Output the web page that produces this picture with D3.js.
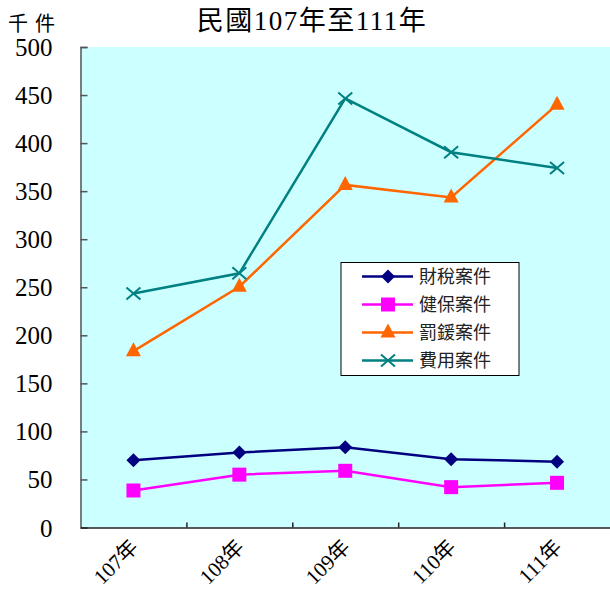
<!DOCTYPE html>
<html>
<head>
<meta charset="utf-8">
<script src="https://cdn.jsdelivr.net/npm/d3@7"></script>
<style>
    body { margin: 0; background: #fff; }
    svg text { font-family: 'Liberation Serif', 'Times New Roman', Times, 'Noto Sans CJK TC', serif; }
</style>
</head>
<body>
<div id="chart"></div>
<script>
var years = ['107年', '108年', '109年', '110年', '111年'];
var seriesNames = ['財稅案件', '健保案件', '罰鍰案件', '費用案件'];
var taxCases = [70, 78, 83.5, 71, 68.5];
var healthCases = [38.5, 55, 59, 42, 46.5];
var fineCases = [183.5, 250.5, 356.5, 343.5, 440];
var feeCases = [243.5, 264.5, 446.5, 390.5, 374];
var yTicks = [0, 50, 100, 150, 200, 250, 300, 350, 400, 450, 500];

var colors = ['#000080', '#ff00ff', '#ff6600', '#008080'];
var symbols = ['diamond', 'square', 'triangle', 'cross'];
var allSeries = [taxCases, healthCases, fineCases, feeCases];

var margin = { top: 47, right: 0, bottom: 63.5, left: 80.5 };
var width = 610 - margin.left - margin.right;
var height = 591 - margin.top - margin.bottom;
var serif = "'Liberation Serif', 'Times New Roman', 'Noto Sans CJK TC', serif";

var x = d3.scaleBand().domain(years).range([0, width]);
var y = d3.scaleLinear().domain([0, 500]).range([height, 0]);

var svg = d3.select('#chart')
    .append('svg')
    .attr('width', 610)
    .attr('height', 591)
    .attr('font-family', serif);

svg.append('text')
    .attr('x', 312)
    .attr('y', 30)
    .attr('text-anchor', 'middle')
    .style('font-size', '27px')
    .style('letter-spacing', '1.5px')
    .text('民國107年至111年');

svg.append('text')
    .attr('x', 8)
    .attr('y', 31)
    .style('font-size', '20px')
    .style('letter-spacing', '7px')
    .text('千件');

var g = svg.append('g')
    .attr('transform', `translate(${margin.left}, ${margin.top})`);

g.append('rect')
    .attr('width', width)
    .attr('height', height)
    .attr('fill', '#ccffff');

// y axis: ticks point inward, labels drawn separately further left
var yAxis = g.append('g')
    .call(d3.axisRight(y).tickValues(yTicks).tickSize(7).tickFormat(''));
yAxis.select('.domain').attr('stroke', '#555').attr('stroke-width', 1.5);
yAxis.selectAll('.tick line').attr('stroke', '#555').attr('stroke-width', 1.5);

g.selectAll('.y-label')
    .data(yTicks)
    .enter()
    .append('text')
    .attr('class', 'y-label')
    .attr('x', -28)
    .attr('y', d => y(d))
    .attr('dy', '0.36em')
    .attr('text-anchor', 'end')
    .style('font-size', '25px')
    .text(d => d);

// x axis: ticks on band boundaries
var bounds = years.slice(1).map(d => x(d));
var xAxis = g.append('g')
    .attr('transform', `translate(0, ${height})`)
    .call(d3.axisTop(d3.scaleLinear().domain([0, width]).range([0, width]))
        .tickValues(bounds).tickSize(5).tickFormat('').tickSizeOuter(0));
xAxis.select('.domain').attr('stroke', '#222').attr('stroke-width', 1.5);
xAxis.selectAll('.tick line').attr('stroke', '#222').attr('stroke-width', 1.5);

g.selectAll('.x-label')
    .data(years)
    .enter()
    .append('text')
    .attr('class', 'x-label')
    .attr('transform', d => `translate(${x(d) + x.bandwidth() / 2 + 6}, ${height + 21}) rotate(-45)`)
    .attr('text-anchor', 'end')
    .style('font-size', '21px')
    .text(d => d);

var line = d3.line()
    .x((d, i) => x(years[i]) + x.bandwidth() / 2)
    .y(d => y(d));

function drawMarker(sel, type, color) {
    if (type === 'cross') {
        sel.append('path')
            .attr('d', 'M-7,-6L7,6M-7,6L7,-6')
            .attr('stroke', color)
            .attr('stroke-width', 2)
            .attr('fill', 'none');
    } else if (type === 'diamond') {
        sel.append('path')
            .attr('d', 'M0,-7L7,0L0,7L-7,0Z')
            .attr('fill', color);
    } else if (type === 'square') {
        sel.append('rect')
            .attr('x', -7)
            .attr('y', -7)
            .attr('width', 14)
            .attr('height', 14)
            .attr('fill', color);
    } else {
        sel.append('path')
            .attr('d', 'M0,-9L7.5,5L-7.5,5Z')
            .attr('fill', color);
    }
}

allSeries.forEach(function (values, s) {
    g.append('path')
        .datum(values)
        .attr('fill', 'none')
        .attr('stroke', colors[s])
        .attr('stroke-width', 2.5)
        .attr('d', line);

    g.selectAll('.pt' + s)
        .data(values)
        .enter()
        .append('g')
        .attr('class', 'pt' + s)
        .attr('transform', (d, i) => `translate(${x(years[i]) + x.bandwidth() / 2}, ${y(d)})`)
        .each(function () {
            drawMarker(d3.select(this), symbols[s], colors[s]);
        });
});

// legend
var legend = svg.append('g').attr('transform', 'translate(341, 262.5)');
legend.append('rect')
    .attr('width', 178)
    .attr('height', 113)
    .attr('fill', '#fff')
    .attr('stroke', '#000')
    .attr('stroke-width', 1);

seriesNames.forEach(function (name, s) {
    var row = legend.append('g').attr('transform', `translate(0, ${14 + s * 28})`);
    row.append('line')
        .attr('x1', 21)
        .attr('x2', 72)
        .attr('stroke', colors[s])
        .attr('stroke-width', 2.5);
    drawMarker(row.append('g').attr('transform', 'translate(47, 0)'), symbols[s], colors[s]);
    row.append('text')
        .attr('x', 78)
        .attr('dy', '0.36em')
        .style('font-size', '18px')
        .style('fill', '#222')
        .text(name);
});
</script>
</body>
</html>
